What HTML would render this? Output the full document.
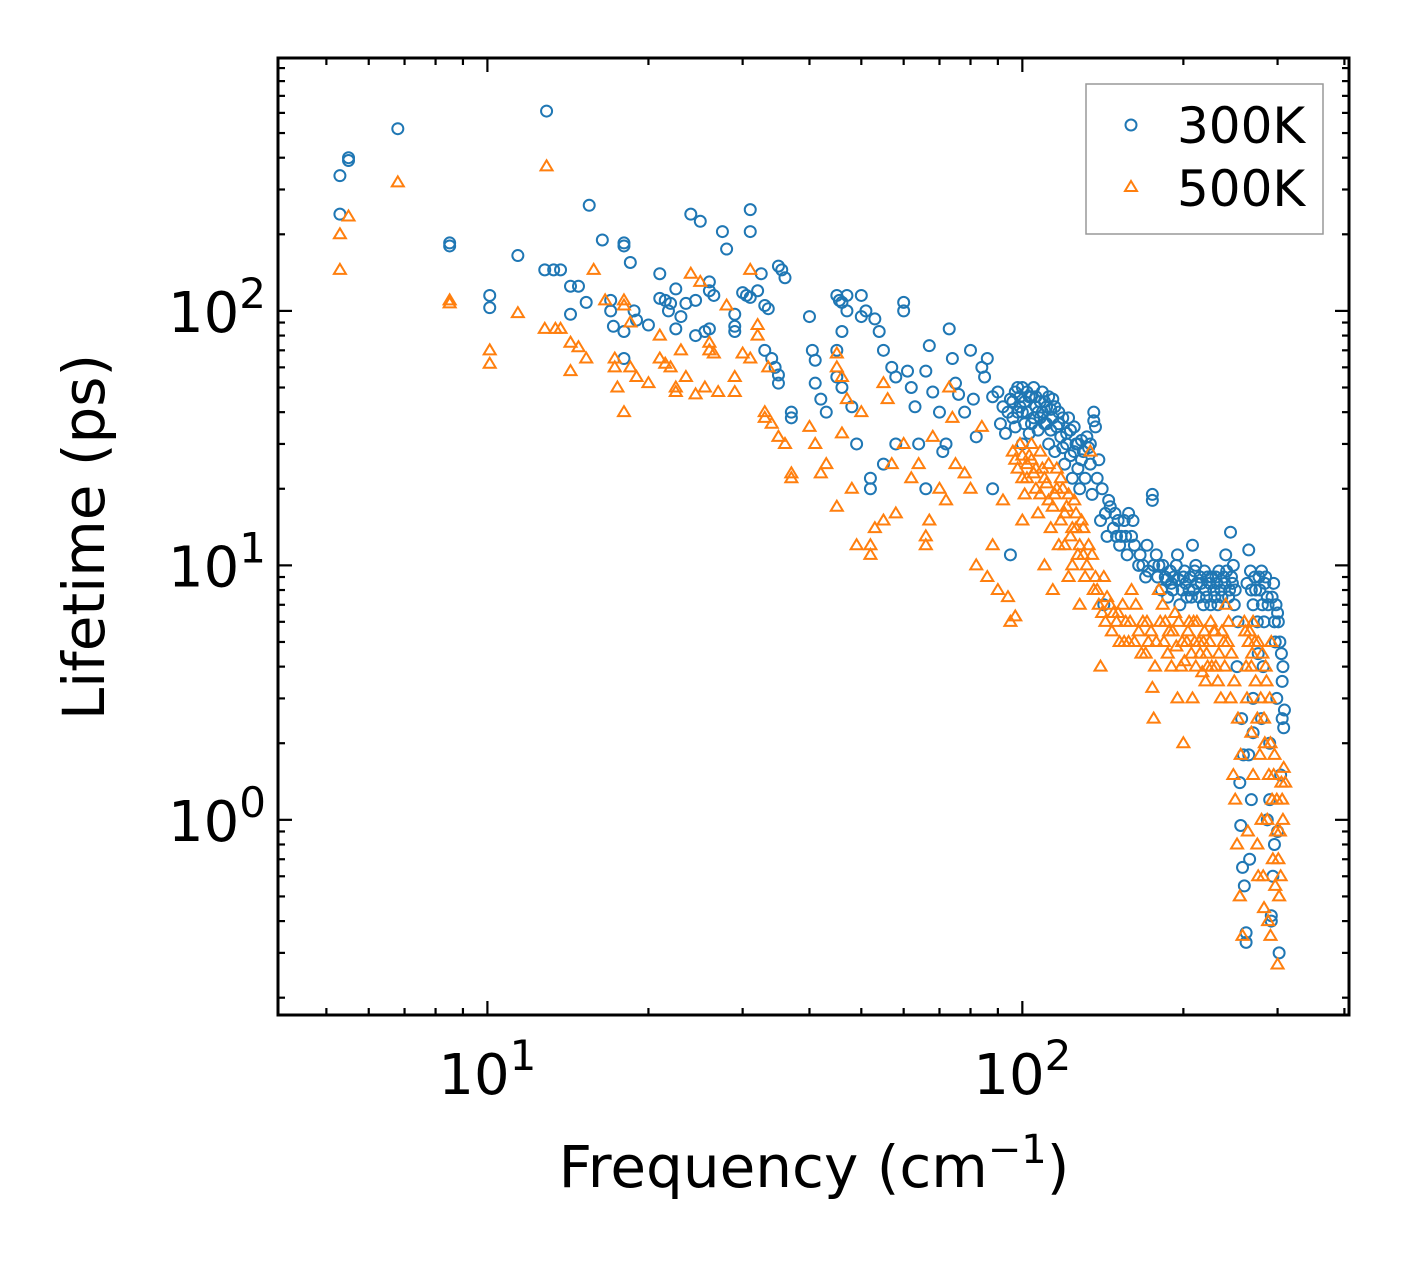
<!DOCTYPE html>
<html><head><meta charset="utf-8">
<style>
html,body{margin:0;padding:0;background:#fff;}
svg{display:block;font-family:"DejaVu Sans","Liberation Sans",sans-serif;}
</style></head>
<body>
<svg id="chart" width="1408" height="1265" viewBox="0 0 1408 1265" xmlns="http://www.w3.org/2000/svg">
<rect width="1408" height="1265" fill="#fff"/>
<g id="marks"></g>
<g id="axes"></g>
<text x="814" y="1187" font-size="58" text-anchor="middle">Frequency (cm<tspan dy="-24" font-size="40">−1</tspan><tspan dy="24">)</tspan></text>
<text transform="translate(104,537) rotate(-90)" font-size="58" text-anchor="middle">Lifetime (ps)</text>
<g>
<rect x="1086" y="84" width="237" height="150" fill="#fff" stroke="#999" stroke-width="1.5"/>
<circle cx="1131" cy="125" r="5.5" fill="none" stroke="#1f77b4" stroke-width="2"/>
<text x="1177" y="143" font-size="50">300K</text>
<polygon points="1131,181 1137,191 1125,191" fill="none" stroke="#ff7f0e" stroke-width="2"/>
<text x="1177" y="206" font-size="50">500K</text>
</g>
</svg>
<script>
const s300 = [[5.3,340],[5.3,240],[5.5,400],[5.5,390],[6.8,520],[8.5,185],[8.5,180],[10.1,115],[10.1,103],[11.4,165],[12.8,145],[12.9,610],[13.3,145],[13.7,145],[14.3,125],[14.3,97],[14.8,125],[15.3,108],[15.5,260],[16.4,190],[17,110],[17,100],[17.2,87],[18,185],[18,180],[18,83],[18,65],[18.5,155],[18.8,100],[19,92],[20,88],[21,140],[21,112],[21.5,110],[21.8,100],[22,107],[22.5,85],[22.5,122],[23,95],[23.5,107],[24,240],[24.5,80],[24.5,110],[25,225],[25.5,83],[26,130],[26,120],[26,85],[26.5,115],[27.5,205],[28,175],[29,97],[29,87],[29,83],[30,118],[30.5,115],[31,250],[31,205],[31,113],[32,120],[32.5,140],[33,105],[33,70],[33.5,102],[34,65],[34.5,60],[35,150],[35,56],[35,52],[35.5,145],[36,135],[37,40],[37,38],[40,95],[40.5,70],[41,64],[41,52],[42,45],[43,40],[45,115],[45,70],[45,55],[45.5,110],[46,108],[46,83],[46,50],[47,115],[47,100],[48,42],[49,30],[50,115],[50,95],[51,100],[52,22],[52,20],[53,93],[54,83],[55,70],[55,25],[57,60],[58,55],[58,30],[60,108],[60,100],[61,58],[62,50],[63,42],[64,30],[66,58],[66,20],[67,73],[68,48],[70,40],[71,28],[72,30],[73,85],[74,65],[75,52],[76,47],[78,40],[80,70],[81,45],[82,32],[84,60],[85,55],[86,65],[88,20],[88,46],[90,48],[92,42],[95,45],[95,11],[96,38],[98,50],[100,40],[100,30],[102,48],[104,46],[106,42],[108,38],[110,44],[112,30],[114,45],[116,35],[118,32],[120,25],[122,38],[124,22],[126,30],[128,20],[130,28],[134,25],[136,40],[136,37],[140,15],[142,7],[144,13],[146,17],[150,13],[152,12],[155,15],[158,16],[160,13],[165,10],[170,9],[175,19],[175,18],[178,11],[180,10],[185,9],[190,8.5],[195,11],[200,9],[205,8],[208,12],[212,8.5],[215,9],[220,8],[225,7],[230,9],[235,8],[240,11],[245,13.5],[248,10],[250,8],[252,4],[255,1.4],[256,0.95],[258,0.65],[260,0.55],[262,0.36],[262,0.33],[265,11.5],[268,8],[270,7],[275,6],[280,9.5],[282,4],[285,9],[290,2],[292,0.42],[292,0.4],[295,8.5],[298,7],[300,6.5],[302,0.3],[305,4.5],[306,2.5],[308,2.3],
[91,36],[93,33],[94,40],[97,35],[99,42],[101,36],[103,33],[105,38],[107,34],[109,40],[111,36],[113,41],[115,28],[117,40],[119,29],[121,33],[123,27],[125,35],[127,24],[129,31],[131,22],[133,29],[135,19],[138,22],[143,16],[148,14],[153,13],[157,11],[162,12],[168,10],[172,9.5],[182,8],[187,7.5],[192,9],[197,7],[202,8.5],[207,7.5],[210,9.5],[218,7],[222,9],[228,8],[232,7],[238,9],[243,7.5],[247,8.5],[272,9],[278,8],[287,7.5],[296,6],[303,5],[299,3],[304,1.5],[296,0.8],[290,1.2],[265,1.8],[270,3],[276,4.5],[283,6],
[96,44],[97,48],[98,40],[99,46],[100,50],[101,44],[102,40],[103,46],[104,36],[105,50],[106,46],[107,40],[108,44],[109,48],[110,36],[111,42],[112,46],[113,34],[114,38],[115,42],[117,36],[119,38],[121,30],[123,34],[125,28],[127,30],[129,26],[132,32],[134,30],[137,35],[139,26],[141,20],[145,18],[149,16],[151,15],[156,13],[161,15],[166,11],[171,12],[176,10],[179,9],[183,10],[186,8.8],[189,9.5],[191,8],[194,10],[196,8.8],[199,8],[201,9.5],[203,7.5],[206,9],[209,8],[211,10],[214,7.5],[216,8.5],[219,9.5],[221,7.5],[224,8.5],[226,9],[229,7.5],[231,8.5],[233,9.5],[236,7.5],[239,8.5],[241,9.5],[244,8],[246,9],[249,7],[253,6],[263,8.5],[267,9.5],[273,8],[277,9],[281,7],[284,8.5],[288,7],[293,7.5],[297,5],[301,6],[307,4],[309,2.7],[306,3.5],[280,2.5],[268,1.2],[257,2.5],[259,1.8],[287,1],[294,0.6],[300,0.9],[266,0.7],[270,2.2]];
const s500 = [[5.3,200],[5.3,145],[5.5,235],[6.8,320],[8.5,110],[8.5,107],[10.1,70],[10.1,62],[11.4,98],[12.8,85],[12.9,370],[13.4,85],[13.7,85],[14.3,75],[14.3,58],[14.8,72],[15.3,65],[15.8,145],[16.6,110],[17.3,65],[17.3,60],[17.5,50],[18,110],[18,105],[18,40],[18.5,90],[18.5,60],[19,55],[20,52],[21,80],[21,65],[21.5,62],[22,60],[22.5,50],[22.5,48],[23,70],[23.5,55],[24,140],[24.5,47],[25,130],[25.5,50],[26,75],[26,70],[26.5,68],[27,48],[28,105],[29,55],[29,48],[30,68],[31,145],[31,65],[32,88],[32,80],[33,40],[33,38],[33.5,60],[34,36],[35,32],[36,30],[37,23],[37,22],[40,35],[41,30],[42,23],[43,25],[45,68],[45,60],[45,17],[46,55],[46,33],[47,45],[48,20],[49,12],[50,40],[52,12],[52,11],[53,14],[55,52],[55,15],[56,45],[57,25],[58,16],[60,30],[62,22],[64,25],[66,13],[66,12],[67,15],[68,32],[70,20],[72,18],[73,50],[74,38],[75,25],[78,23],[80,20],[82,10],[84,35],[86,9],[88,12],[90,8],[92,18],[94,7.5],[95,6],[97,6.3],[100,22],[100,15],[102,25],[104,30],[106,20],[108,28],[110,10],[112,18],[114,8],[116,24],[118,15],[120,12],[122,9],[124,10],[126,14],[128,7],[130,11],[134,28],[136,8],[140,4],[142,9],[146,7],[150,6],[154,7],[158,5],[160,8],[165,5.5],[170,4.5],[175,3.3],[176,2.5],[178,5],[180,8],[185,6],[190,4],[195,3],[200,2],[205,6],[210,5],[215,4.5],[220,3.5],[225,6],[230,4],[235,3],[240,7],[242,5],[245,3],[248,1.5],[250,1.2],[252,0.8],[255,0.5],[258,0.35],[260,6],[265,5],[268,4],[270,6],[275,2.5],[278,1.8],[280,1],[282,0.6],[285,4],[288,0.4],[290,3],[292,5],[295,1.5],[298,0.9],[300,0.27],[302,0.5],[305,1.4],[308,1.6],
[96,28],[98,24],[101,19],[103,27],[105,23],[107,16],[109,24],[111,21],[113,14],[115,19],[117,12],[119,20],[121,17],[123,13],[125,18],[127,11],[129,15],[131,9],[133,12],[138,8],[144,7.5],[148,6.5],[152,5],[156,6],[163,7],[168,6],[172,5],[183,7],[188,5.5],[193,6.5],[198,4],[203,5],[208,3],[212,6],[218,5],[222,4],[228,5.5],[232,3.5],[238,5],[262,4],[272,5],[284,2],[287,1],[294,0.7],[297,0.55],[303,0.9],[306,1.2],[270,1.5],[275,0.8],
[97,26],[99,30],[100,27],[102,22],[104,26],[106,24],[108,19],[110,22],[112,25],[114,17],[116,20],[118,22],[120,16],[122,19],[124,14],[126,16],[128,12],[130,14],[132,10],[135,11],[137,9],[139,7],[141,6.5],[143,6],[147,5.5],[151,6.5],[155,5],[159,6],[162,5],[167,4.5],[171,6],[174,5.5],[177,4],[181,6],[184,5],[187,4.5],[191,5.5],[194,4.8],[196,6],[199,5],[201,4.2],[204,5.5],[207,4.5],[209,6],[211,4],[214,5],[217,3.8],[219,5.5],[221,4.5],[224,5],[226,4],[229,5.5],[233,4.5],[236,5.5],[239,4],[243,6],[246,4.5],[249,3.5],[253,2.5],[256,1.8],[261,5.5],[263,3],[266,5.5],[269,4.5],[273,3.5],[276,5],[279,3],[281,4.5],[283,2.5],[286,3.5],[289,1.5],[291,2],[293,1.2],[296,1.8],[299,1.2],[301,0.7],[304,0.6],[307,1],[310,1.4],[276,0.6],[283,0.45],[291,0.35],[264,0.9],[268,2.2]];
const xTicks = [10,100];
const yTicks = [1,10,100];
const L=278,R=1349,T=58,B=1015;
const xmin=Math.log10(4.06), xmax=Math.log10(408), ymin=Math.log10(0.171), ymax=Math.log10(986);
const X=v=>L+(Math.log10(v)-xmin)/(xmax-xmin)*(R-L);
const Y=v=>B-(Math.log10(v)-ymin)/(ymax-ymin)*(B-T);
const NS="http://www.w3.org/2000/svg";
const marks=document.getElementById('marks'), axes=document.getElementById('axes');
function mk(tag,attrs,parent){const e=document.createElementNS(NS,tag);for(const k in attrs)e.setAttribute(k,attrs[k]);parent.appendChild(e);return e;}
s300.forEach(p=>{const c=mk('circle',{cx:X(p[0]),cy:Y(p[1]),r:5.5,fill:'none',stroke:'#1f77b4','stroke-width':2},marks);

});
s500.forEach(p=>{const x=X(p[0]),y=Y(p[1]);const t=mk('polygon',{points:`${x},${y-6} ${x+6},${y+4} ${x-6},${y+4}`,fill:'none',stroke:'#ff7f0e','stroke-width':2},marks);

});
const fr=mk('rect',{x:L,y:T,width:R-L,height:B-T,fill:'none',stroke:'#000','stroke-width':3},axes);


for(let d=0;d<=2;d++)for(let m=1;m<=9;m++){const v=m*Math.pow(10,d);const x=X(v);if(x<L+1||x>R-1)continue;const len=m===1?14:7;
mk('line',{x1:x,y1:B,x2:x,y2:B-len,stroke:'#000','stroke-width':2.2},axes);mk('line',{x1:x,y1:T,x2:x,y2:T+len,stroke:'#000','stroke-width':2.2},axes);}
for(let d=-1;d<=2;d++)for(let m=1;m<=9;m++){const v=m*Math.pow(10,d);const y=Y(v);if(y<T+1||y>B-1)continue;const len=m===1?14:7;
mk('line',{x1:L,y1:y,x2:L+len,y2:y,stroke:'#000','stroke-width':2.2},axes);mk('line',{x1:R,y1:y,x2:R-len,y2:y,stroke:'#000','stroke-width':2.2},axes);}
xTicks.forEach(v=>{const t=mk('text',{x:X(v),y:1094,'font-size':56,'text-anchor':'middle'},axes);


t.innerHTML=`10<tspan dy="-24" font-size="42">${Math.round(Math.log10(v))}</tspan>`;});
yTicks.forEach(v=>{const t=mk('text',{x:266,y:Y(v)+21,'font-size':56,'text-anchor':'end'},axes);


t.innerHTML=`10<tspan dy="-24" font-size="42">${Math.round(Math.log10(v))}</tspan>`;});
</script>
</body></html>
